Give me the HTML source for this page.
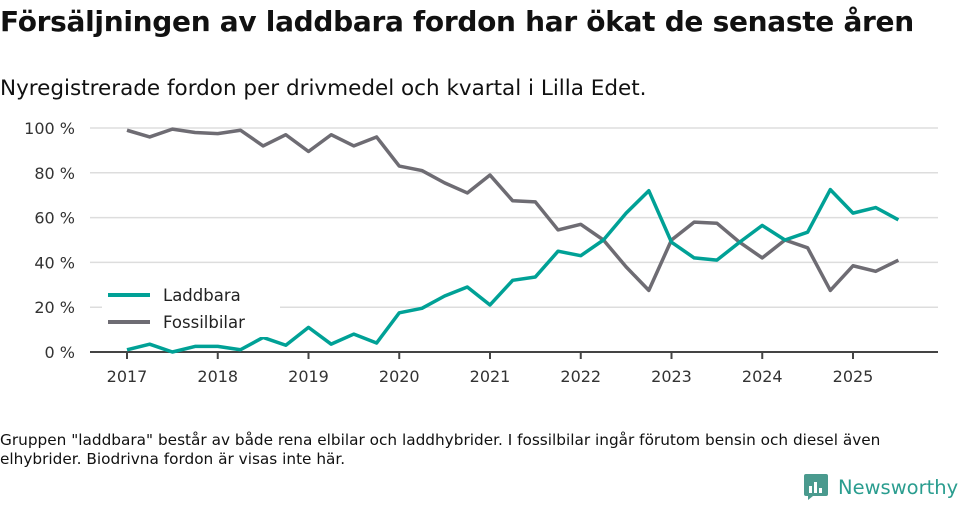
<!DOCTYPE html>
<html><head><meta charset="utf-8"><style>
body{margin:0;width:960px;height:505px;background:#fff;font-family:"DejaVu Sans","Liberation Sans",sans-serif;color:#111;position:relative;overflow:hidden}
h1{position:absolute;left:0;top:5px;margin:0;font-size:28px;font-weight:bold;letter-spacing:-0.3px}
.sub{position:absolute;left:0;top:76px;font-size:21.5px}
.note{position:absolute;left:0;top:431px;font-size:15.3px;line-height:19px;width:925px}
.logo{position:absolute;left:804px;top:474px;display:flex;align-items:center;font-size:19.5px;color:#2a9d8f}
</style></head><body>
<h1>Försäljningen av laddbara fordon har ökat de senaste åren</h1>
<div class="sub">Nyregistrerade fordon per drivmedel och kvartal i Lilla Edet.</div>
<svg id="chart" width="960" height="505" style="position:absolute;left:0;top:0"></svg>
<div class="note">Gruppen "laddbara" består av både rena elbilar och laddhybrider. I fossilbilar ingår förutom bensin och diesel även elhybrider. Biodrivna fordon är visas inte här.</div>
<div class="logo"><svg width="26" height="26" viewBox="0 0 26 26"><rect x="0" y="0" width="24" height="22" rx="2" fill="#4a9a8e"/><path d="M4 22 L4 26 L9 22Z" fill="#4a9a8e"/><rect x="5" y="12" width="3" height="7" fill="#fff"/><rect x="10" y="8" width="3" height="11" fill="#fff"/><rect x="15" y="14" width="3" height="5" fill="#fff"/></svg><span style="margin-left:8px">Newsworthy</span></div>
<script>
const years=["2017","2018","2019","2020","2021","2022","2023","2024","2025"];
const yTicks=[0,20,40,60,80,100];
const laddbara=[1,3.5,0,2.5,2.5,1,6.5,3,11,3.5,8,4,17.5,19.5,25,29,21,32,33.5,45,43,50,62,72,49,42,41,49,56.5,50,53.5,72.5,62,64.5,59];
const fossil=[99,96,99.5,98,97.5,99,92,97,89.5,97,92,96,83,81,75.5,71,79,67.5,67,54.5,57,50,38,27.5,50,58,57.5,49,42,50,46.5,27.5,38.5,36,41];
const svg=document.getElementById('chart');const NS='http://www.w3.org/2000/svg';
const X=i=>127+i*(726/32), Y=v=>352-v*2.24;
function el(t,a){const e=document.createElementNS(NS,t);for(const k in a)e.setAttribute(k,a[k]);svg.appendChild(e);return e;}
yTicks.forEach(v=>{
 if(v>0){const g=el('line',{x1:90,x2:938,y1:Y(v),y2:Y(v),stroke:'#ddd','stroke-width':1.5});
 
 }
 const t=el('text',{x:75,y:Y(v)+6,'text-anchor':'end','font-size':16,fill:'#333'});t.textContent=v+' %';
 
 
});
const ax=el('line',{x1:90,x2:938,y1:352,y2:352,stroke:'#444','stroke-width':2});


years.forEach((y,i)=>{const x=X(i*4);
 const tk=el('line',{x1:x,x2:x,y1:352,y2:359,stroke:'#444','stroke-width':2});
 
 
 const t=el('text',{x:x,y:382,'text-anchor':'middle','font-size':16,fill:'#333'});t.textContent=y;
 
 
});
function line(d,c,n){const p=el('polyline',{points:d.map((v,i)=>X(i)+','+Y(v)).join(' '),fill:'none',stroke:c,'stroke-width':3.5,'stroke-linejoin':'round'});
 
 }
line(fossil,'#6e6c73','fossilbilar-line');
line(laddbara,'#00a196','laddbara-line');
const lb=el('rect',{x:102,y:280,width:178,height:57,fill:'#fff'});


[['Laddbara','#00a196',295],['Fossilbilar','#6e6c73',322]].forEach(([n,c,y])=>{
 const l=el('line',{x1:108,x2:150,y1:y,y2:y,stroke:c,'stroke-width':4});
 
 
 const t=el('text',{x:163,y:y+6,'font-size':16.5,fill:'#222'});t.textContent=n;
 
 
});
</script>
</body></html>
